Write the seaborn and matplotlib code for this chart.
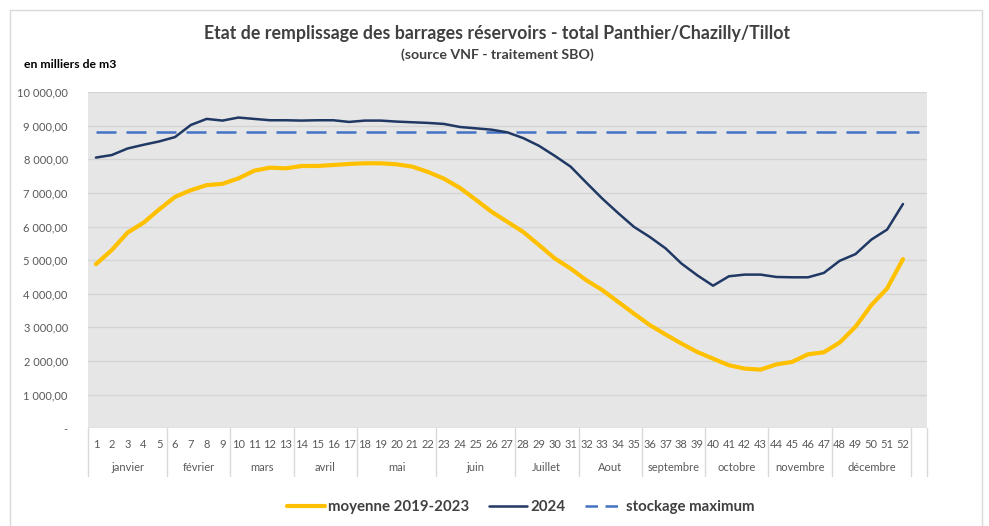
import numpy as np
import pandas as pd
import matplotlib
matplotlib.use("Agg")
import matplotlib.pyplot as plt
import seaborn as sns

weeks = list(range(1, 53))
moyenne = [4880, 5300, 5820, 6110, 6510, 6880, 7080, 7230, 7270, 7430,
           7660, 7750, 7730, 7800, 7800, 7830, 7860, 7880, 7880, 7850,
           7780, 7620, 7420, 7150, 6800, 6440, 6140, 5840, 5450, 5050,
           4750, 4400, 4110, 3760, 3410, 3070, 2790, 2520, 2270, 2070,
           1875, 1775, 1745, 1900, 1975, 2200, 2260, 2550, 3020, 3660,
           4160, 5030]
serie_2024 = [8050, 8125, 8320, 8430, 8530, 8660, 9020, 9200, 9150, 9240,
              9200, 9160, 9160, 9150, 9160, 9160, 9110, 9150, 9150, 9120,
              9100, 9080, 9050, 8960, 8920, 8880, 8800, 8630, 8400, 8100,
              7780, 7300, 6830, 6400, 5990, 5690, 5350, 4900, 4550, 4240,
              4520, 4570, 4570, 4500, 4490, 4490, 4620, 4980, 5180, 5610,
              5910, 6670]
stockage_max = 8800
n_slots = 53
months = ["janvier", "février", "mars", "avril", "mai", "juin", "Juillet",
          "Aout", "septembre", "octobre", "novembre", "décembre"]
month_weeks = [5, 4, 4, 4, 5, 5, 4, 4, 4, 4, 4, 5]
yticks = list(range(0, 10001, 1000))
ytick_labels = ["-"] + [f"{v:,.2f}".replace(",", " ").replace(".", ",") for v in yticks[1:]]

title = "Etat de remplissage des barrages réservoirs - total Panthier/Chazilly/Tillot"
subtitle = "(source VNF - traitement SBO)"
unit = "en milliers de m3"
labels = ["moyenne 2019-2023", "2024", "stockage maximum"]

sns.set_style("white")
plt.rcParams["font.family"] = ["Lato", "DejaVu Sans"]

W, H = 989, 526
fig = plt.figure(figsize=(W / 100, H / 100), dpi=100)
fig.patch.set_facecolor("white")

# outer border
fig.add_artist(plt.Rectangle((10 / W, -0.05), (982 - 10) / W, 1.05 - 10 / H,
                             transform=fig.transFigure, fill=False, edgecolor="#D9D9D9", lw=1))

ax = fig.add_axes([88 / W, 1 - 428.3 / H, (926.7 - 88) / W, (428.3 - 92) / H])
ax.set_facecolor("#E6E6E6")

df = pd.DataFrame({"semaine": weeks, "moyenne": moyenne, "2024": serie_2024})
sns.lineplot(data=df, x="semaine", y="moyenne", ax=ax, color="#FFC000", lw=3, label=labels[0], zorder=3)
sns.lineplot(data=df, x="semaine", y="2024", ax=ax, color="#203864", lw=1.8, label=labels[1], zorder=4)
dmax = pd.DataFrame({"x": list(range(1, n_slots + 1)), "y": [stockage_max] * n_slots})
sns.lineplot(data=dmax, x="x", y="y", ax=ax, color="#4472C4", lw=1.8, label=labels[2],
             linestyle=(0, (8, 4)), zorder=2)

ax.set_xlim(0.5, n_slots + 0.5)
ax.set_ylim(0, 10000)
ax.set_yticks(yticks)
ax.set_yticklabels(ytick_labels, color="#595959", fontsize=8)
ax.tick_params(axis="y", length=0, pad=14.5)
ax.yaxis.grid(True, color="#D4D4D4", lw=1)
ax.set_axisbelow(True)
ax.set_xticks(weeks)
ax.set_xticklabels([str(w) for w in weeks], color="#595959", fontsize=8)
ax.tick_params(axis="x", length=0, pad=8)
ax.set_xlabel("")
ax.set_ylabel("")
for s in ax.spines.values():
    s.set_visible(False)
ax.legend_.remove()

# month group labels and separators
trans = ax.get_xaxis_transform()
ph = 428.3 - 92
sep_len = 48 / ph
start = 0.5
bounds = [start]
for m, n in zip(months, month_weeks):
    end = start + n
    ax.text((start + end) / 2, -39 / ph, m, transform=trans, ha="center", va="center",
            fontsize=8, color="#595959")
    bounds.append(end)
    start = end
bounds.append(n_slots + 0.5)
for b in bounds:
    ax.plot([b, b], [0, -sep_len], transform=trans, color="#D9D9D9", lw=1, clip_on=False)

fig.text(497 / W, 1 - 33 / H, title, ha="center", va="center", fontsize=12.8,
         fontweight="bold", color="#404040")
fig.text(497 / W, 1 - 55 / H, subtitle, ha="center", va="center", fontsize=10.2,
         fontweight="bold", color="#404040")
fig.text(24 / W, 1 - 64 / H, unit, ha="left", va="center", fontsize=8.8,
         fontweight="bold", color="#000000")

h = [plt.Line2D([], [], color="#FFC000", lw=3),
     plt.Line2D([], [], color="#203864", lw=1.8),
     plt.Line2D([], [], color="#4472C4", lw=1.8, linestyle=(0, (5, 3)))]
leg = fig.legend(h, labels, loc="center", bbox_to_anchor=(521 / W, 1 - 507 / H), ncol=3,
                 frameon=False, handlelength=2.5, handletextpad=0.25, columnspacing=1.3,
                 prop={"weight": "bold", "size": 10.8})
for t in leg.get_texts():
    t.set_color("#404040")

fig.savefig("out.png", dpi=100, facecolor="white")
